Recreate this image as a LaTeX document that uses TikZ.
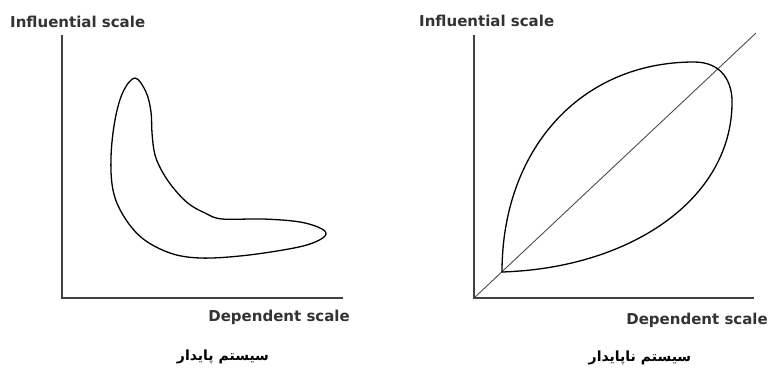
\documentclass[tikz,border=0pt]{standalone}
\usepackage{fontspec}
\setmainfont{DejaVu Sans}
\newfontfamily\labfont{DejaVu Sans Bold}
\newfontfamily\arabicfont[Script=Arabic]{DejaVu Sans Bold}
\TeXXeTstate=1
\begin{document}
\begin{tikzpicture}[x=1pt,y=-1pt,
  axis/.style={draw=black!75,line width=1.8pt},
  curve/.style={draw=black,line width=1.3pt},
  diag/.style={draw=black!70,line width=0.9pt},
  lab/.style={inner sep=0pt,font=\labfont\fontsize{15}{17}\selectfont,text=black!80},
  fa/.style={inner sep=0pt,font=\arabicfont\fontsize{14}{16}\selectfont,text=black}]
\useasboundingbox (0,0) rectangle (768,369);
% left panel
\coordinate (lo) at (62,298);
\coordinate (ltop) at (62,35);
\coordinate (lright) at (343,298);
\draw[axis] (ltop) -- (lo) -- (lright);
\node[lab,anchor=base west] (linf) at (10,28) {Influential scale};
\node[lab,anchor=base east] (ldep) at (350,321) {Dependent scale};
\node[fa] (lfa) at (223,357) {\beginR سیستم پایدار\endR};
\draw[curve] plot[smooth cycle,tension=0.6] coordinates {
 (135,78) (146,92) (151,112) (152,133) (155,155) (163,173) (175,190)
 (189,204) (205,213) (222,219) (263,219) (300,222) (322,229) (325,236)
 (310,244) (283,250) (240,256) (200,258) (170,253) (142,238) (123,215)
 (113,190) (111,157) (115,120) (123,92)};
% right panel
\coordinate (ro) at (474,298);
\coordinate (rtop) at (474,35);
\coordinate (rright) at (754,298);
\coordinate (rdiag) at (756,33);
\draw[axis] (rtop) -- (ro) -- (rright);
\draw[diag] (ro) -- (rdiag);
\node[lab,anchor=base west] (rinf) at (419,27) {Influential scale};
\node[lab,anchor=base east] (rdep) at (768,324) {Dependent scale};
\node[fa] (rfa) at (640,358) {\beginR سیستم ناپایدار\endR};
\coordinate (cusp) at (502,272);
\draw[curve,line join=miter] (cusp) .. controls (502,150) and (580,62) .. (694,62)
  .. controls (722,62) and (733,82) .. (732,105)
  .. controls (730,200) and (630,268) .. (cusp) -- cycle;
\end{tikzpicture}
\end{document}
